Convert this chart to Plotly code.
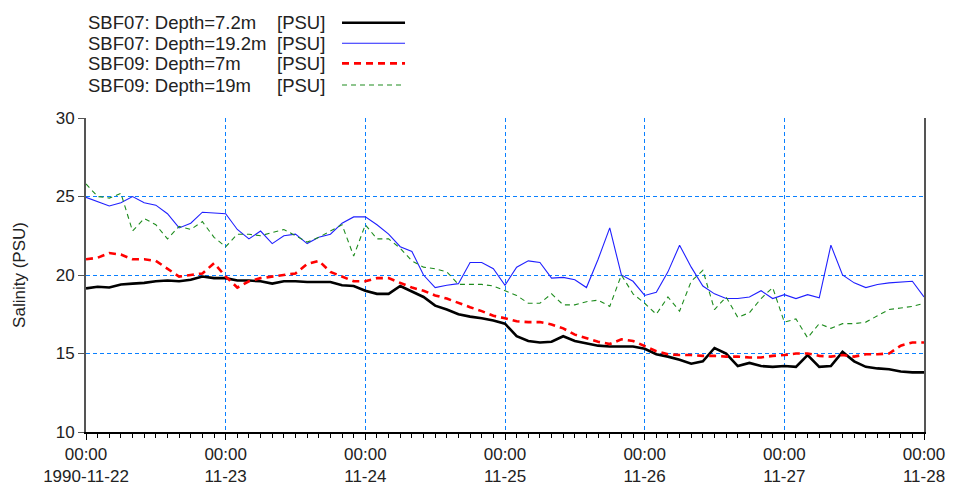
import pandas as pd
import plotly.graph_objects as go

start = "1990-11-22 00:00"
step_hours = 2
n_points = 73

sbf07_7m = [
    19.15, 19.25, 19.2, 19.4, 19.45, 19.5, 19.6, 19.65, 19.6, 19.7, 19.9, 19.8,
    19.8, 19.65, 19.65, 19.6, 19.45, 19.6, 19.6, 19.55, 19.55, 19.55, 19.35, 19.3,
    19.0, 18.8, 18.8, 19.3, 18.95, 18.6, 18.05, 17.8, 17.5, 17.35, 17.25, 17.1,
    16.9, 16.1, 15.8, 15.7, 15.75, 16.1, 15.8, 15.65, 15.5, 15.45, 15.45, 15.45,
    15.3, 14.95, 14.8, 14.6, 14.35, 14.5, 15.35, 15.0, 14.2, 14.4, 14.2, 14.15,
    14.2, 14.15, 14.9, 14.15, 14.2, 15.1, 14.5, 14.15, 14.05, 14.0, 13.85, 13.8, 13.8,
]
sbf07_19m = [
    24.95, 24.7, 24.4, 24.6, 25.0, 24.6, 24.45, 23.9, 23.0, 23.3, 24.0, 23.95,
    23.9, 22.9, 22.3, 22.8, 22.0, 22.5, 22.6, 22.0, 22.4, 22.6, 23.3, 23.7,
    23.7, 23.2, 22.6, 21.8, 21.5, 20.0, 19.2, 19.35, 19.45, 20.8, 20.8, 20.4,
    19.35, 20.5, 20.9, 20.8, 19.8, 19.85, 19.7, 19.2, 21.0, 23.0, 20.0, 19.6,
    18.7, 18.9, 20.2, 21.9, 20.5, 19.3, 18.8, 18.5, 18.5, 18.6, 19.0, 18.5,
    18.75, 18.5, 18.75, 18.55, 21.9, 20.0, 19.5, 19.2, 19.4, 19.5, 19.55, 19.6, 18.6,
]
sbf09_7m = [
    21.0, 21.1, 21.4, 21.3, 21.0, 21.0, 20.9, 20.4, 19.9, 20.0, 20.1, 20.75,
    19.9, 19.2, 19.6, 19.8, 19.9, 20.0, 20.1, 20.7, 20.9, 20.2, 19.9, 19.6,
    19.6, 19.8, 19.8, 19.5, 19.2, 19.0, 18.7, 18.5, 18.2, 17.95, 17.7, 17.4,
    17.25, 17.05, 17.0, 17.0, 16.85, 16.6, 16.2, 15.95, 15.75, 15.6, 15.9, 15.8,
    15.5, 15.15, 14.95, 14.9, 14.9, 14.85, 14.85, 14.8, 14.8, 14.75, 14.75, 14.85,
    14.9, 15.0, 15.0, 14.85, 14.8, 14.9, 14.8, 14.95, 14.95, 15.0, 15.5, 15.7, 15.7,
]
sbf09_19m = [
    25.8, 25.0, 24.9, 25.2, 22.8, 23.6, 23.2, 22.3, 23.1, 22.9, 23.4, 22.4,
    21.8, 22.6, 22.6, 22.5, 22.7, 22.9, 22.5, 22.1, 22.4, 22.8, 23.2, 21.2,
    23.2, 22.3, 22.3, 21.7, 20.9, 20.5, 20.4, 20.2, 19.4, 19.4, 19.4, 19.3,
    19.0, 18.7, 18.2, 18.2, 18.8, 18.1, 18.1, 18.3, 18.4, 18.0, 20.0, 18.8,
    18.2, 17.5, 18.6, 17.7, 19.6, 20.3, 17.8, 18.6, 17.3, 17.6, 18.5, 19.2,
    17.0, 17.2, 16.0, 16.9, 16.6, 16.9, 16.9, 17.0, 17.4, 17.8, 17.9, 18.0, 18.2,
]

series_names = ["SBF07: Depth=7.2m", "SBF07: Depth=19.2m", "SBF09: Depth=7m", "SBF09: Depth=19m"]
series_unit = "[PSU]"

tick_dates = ["1990-11-22", "1990-11-23", "1990-11-24", "1990-11-25",
              "1990-11-26", "1990-11-27", "1990-11-28"]
tick_labels = ["00:00<br>1990-11-22", "00:00<br>11-23", "00:00<br>11-24", "00:00<br>11-25",
               "00:00<br>11-26", "00:00<br>11-27", "00:00<br>11-28"]
y_ticks = [10, 15, 20, 25, 30]
y_grid = [15, 20, 25]

times = pd.date_range(start, periods=n_points, freq=f"{step_hours}h")

styles = [
    dict(color="black", width=2.6, dash="solid"),
    dict(color="#2020ff", width=1.1, dash="solid"),
    dict(color="#ff0000", width=2.6, dash="7px,5px"),
    dict(color="#1e8c1e", width=1.1, dash="5px,4px"),
]
all_series = [sbf07_7m, sbf07_19m, sbf09_7m, sbf09_19m]

fig = go.Figure()
for name, vals, st in zip(series_names, all_series, styles):
    fig.add_trace(go.Scatter(x=times, y=vals, mode="lines", name=name,
                             line=st, showlegend=False))

FONT = "Liberation Sans, Arial, sans-serif"
GRID = "#0a80ff"
TXT = "#222"

# custom legend: text on the left, line sample on the right
row_y = [1.3035, 1.238, 1.174, 1.105]
for name, st, yy in zip(series_names, styles, row_y):
    fig.add_annotation(x=0, y=yy, xref="paper", yref="paper", text=name,
                       showarrow=False, xanchor="left", yanchor="middle",
                       font=dict(family=FONT, size=18.5, color=TXT))
    fig.add_annotation(x=0.2255, y=yy, xref="paper", yref="paper", text=series_unit,
                       showarrow=False, xanchor="left", yanchor="middle",
                       font=dict(family=FONT, size=18.5, color=TXT))
    fig.add_shape(type="line", xref="paper", yref="paper", x0=0.3055, x1=0.3807,
                  y0=yy, y1=yy, line=st)

# page body has an 8px margin: shift everything up/left by 8px
fig.update_layout(
    width=947, height=478,
    margin=dict(l=78, r=31, t=110, b=54, autoexpand=False),
    paper_bgcolor="white", plot_bgcolor="white",
    font=dict(family=FONT, size=17, color=TXT),
)
fig.update_xaxes(
    automargin=False,
    range=[tick_dates[0], tick_dates[-1]],
    tickvals=tick_dates, ticktext=tick_labels,
    showgrid=True, gridcolor=GRID, griddash="4px,3px", gridwidth=1.2,
    showline=True, linecolor="black", linewidth=1.5, mirror=False,
    ticks="outside", ticklen=6, tickcolor="black",
    minor=dict(dtick=2 * 3600 * 1000, ticks="outside", ticklen=4, tickcolor="black", showgrid=False),
    tickfont=dict(family=FONT, size=17, color=TXT),
    zeroline=False,
)
fig.update_yaxes(
    automargin=False,
    range=[10, 30], tickvals=y_ticks,
    showgrid=False,
    minor=dict(tickvals=y_grid, showgrid=True, gridcolor=GRID, griddash="4px,3px", gridwidth=1.2, ticks=""),
    showline=True, linecolor="#555", linewidth=2, mirror=True,
    ticks="outside", ticklen=6, tickcolor="#555",
    tickfont=dict(family=FONT, size=17, color=TXT),
    title=dict(text="Salinity (PSU)", font=dict(family=FONT, size=17, color=TXT), standoff=26),
    zeroline=False,
)

fig.write_html("out.html")
